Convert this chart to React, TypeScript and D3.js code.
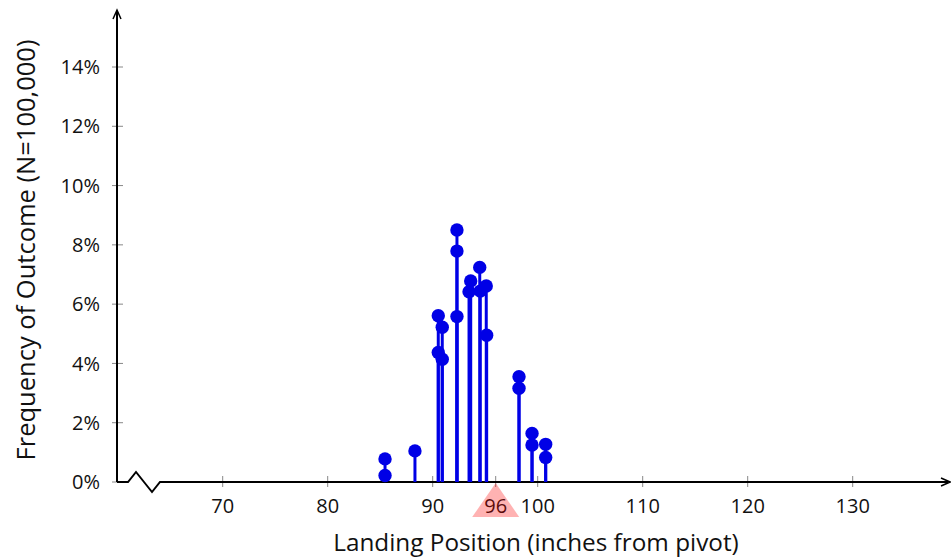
import React from "react";
import * as d3 from "d3";

const positions = [85.46, 85.46, 88.31, 90.53, 90.53, 90.91, 90.91, 92.31, 92.31, 92.31, 93.46, 93.62, 94.48, 94.53, 95.1, 95.14, 98.22, 98.22, 99.46, 99.46, 100.76, 100.76];
const frequencies = [0.78, 0.22, 1.05, 5.61, 4.37, 5.22, 4.14, 8.5, 7.79, 5.58, 6.42, 6.78, 7.24, 6.44, 6.61, 4.95, 3.55, 3.16, 1.64, 1.25, 1.27, 0.83];
const xTicks = [70, 80, 90, 96, 100, 110, 120, 130];
const yTicks = [0, 2, 4, 6, 8, 10, 12, 14];
const pivotMark = 96;

const W = 951;
const H = 560;

export default function App() {
  const x = d3.scaleLinear().domain([70, 100]).range([222.7, 537.7]);
  const y = d3.scaleLinear().domain([0, 14]).range([482, 67]);
  const x0 = 117;
  const y0 = y(0);
  const font = "'Open Sans', sans-serif";
  const blue = "#0000e6";

  const axisPath = `M${x0},${y0} L128,${y0} L136,472 L152,492 L160,${y0} L948,${y0}`;

  return (
    <svg width={W} height={H} style={{ position: "absolute", left: 0, top: 0 }}>
      <rect width={W} height={H} fill="#fff" />
      {/* y ticks */}
      {yTicks.map((t) => (
        <g key={"y" + t}>
          <line x1={x0 - 5} x2={x0 + 6} y1={y(t)} y2={y(t)} stroke="#888" strokeWidth={1} />
          <text x={100} y={y(t)} dy="0.36em" textAnchor="end" fontFamily={font} fontSize={20} fill="#111">
            {t + "%"}
          </text>
        </g>
      ))}
      {/* x ticks */}
      {xTicks.map((t) => (
        <g key={"x" + t}>
          <line x1={x(t)} x2={x(t)} y1={y0 - 6} y2={y0 + 5} stroke="#888" strokeWidth={1} />
          <text x={x(t)} y={y0 + 31} textAnchor="middle" fontFamily={font} fontSize={20} fill="#111">
            {t}
          </text>
        </g>
      ))}
      {/* pivot triangle */}
      <path
        d={`M${x(pivotMark)},${y0 + 1} L${x(pivotMark) + 23.5},${y0 + 35} L${x(pivotMark) - 23.5},${y0 + 35} Z`}
        fill="#ff0000"
        fillOpacity={0.3}
      />
      {/* axes */}
      <line x1={x0} x2={x0} y1={y0} y2={11} stroke="#000" strokeWidth={2} />
      <path d={`M${x0 - 4},${19} L${x0},${10} L${x0 + 4},${19}`} fill="none" stroke="#000" strokeWidth={1.5} />
      <path d={axisPath} fill="none" stroke="#000" strokeWidth={2} />
      <path d={`M${941},${y0 - 4} L${950},${y0} L${941},${y0 + 4}`} fill="none" stroke="#000" strokeWidth={1.5} />
      {/* stems */}
      {positions.map((p, i) => (
        <line key={"s" + i} x1={x(p)} x2={x(p)} y1={y0} y2={y(frequencies[i])} stroke={blue} strokeWidth={3} />
      ))}
      {positions.map((p, i) => (
        <circle key={"c" + i} cx={x(p)} cy={y(frequencies[i])} r={6.7} fill={blue} />
      ))}
      {/* axis titles */}
      <text x={536} y={551} textAnchor="middle" fontFamily={font} fontSize={24.3} fill="#111">
        Landing Position (inches from pivot)
      </text>
      <text
        transform={`translate(35,250) rotate(-90)`}
        textAnchor="middle"
        fontFamily={font}
        fontSize={25.5}
        fill="#111"
      >
        Frequency of Outcome (N=100,000)
      </text>
    </svg>
  );
}
